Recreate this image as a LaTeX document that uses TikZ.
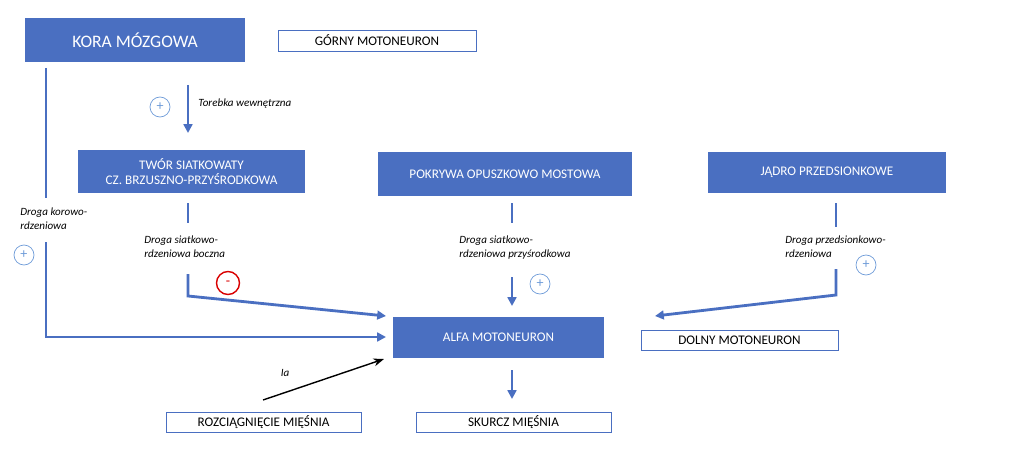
\documentclass[tikz,border=0pt]{standalone}
\usepackage{fontspec}
\setmainfont{Carlito}
\usetikzlibrary{arrows.meta}
\definecolor{bl}{HTML}{4A6FC1}
\definecolor{cb}{HTML}{6E9BD8}
\begin{document}
\begin{tikzpicture}[x=0.02cm,y=-0.02cm,
 box/.style={fill=bl,text=white,font=\fontsize{7.5}{9}\selectfont,align=center,inner sep=0},
 wbox/.style={draw=bl,fill=white,font=\fontsize{7.5}{9}\selectfont,inner sep=0},
 lab/.style={font=\fontsize{6.3}{8}\itshape\selectfont,align=left,anchor=north west,inner sep=0},
 ln/.style={bl,line width=1.6pt},
 ar/.style={ln,-{Triangle[length=5pt,width=5pt]}},
 pl/.style={draw=cb,circle,minimum size=0.4cm,inner sep=0,text=cb,font=\fontsize{8}{8}\selectfont},
 mi/.style={draw=red!85!black,circle,minimum size=0.46cm,inner sep=0,text=red!85!black,line width=0.8pt,font=\fontsize{8}{8}\selectfont}]
\useasboundingbox (0,0) rectangle (1024,456);
\node[box,minimum width=4.4cm,minimum height=0.88cm,font=\fontsize{10}{12}\selectfont] (kora) at (135,40) {KORA MÓZGOWA};
\node[wbox,minimum width=3.96cm,minimum height=0.42cm] (gm) at (377,40.5) {GÓRNY MOTONEURON};
\node[box,minimum width=4.54cm,minimum height=0.86cm] (twor) at (191.5,171.5) {TWÓR SIATKOWATY\\CZ. BRZUSZNO-PRZYŚRODKOWA};
\node[box,minimum width=5.08cm,minimum height=0.88cm] (pok) at (505,174) {POKRYWA OPUSZKOWO MOSTOWA};
\node[box,minimum width=4.76cm,minimum height=0.82cm] (jad) at (827,172.5) {JĄDRO PRZEDSIONKOWE};
\node[box,minimum width=4.22cm,minimum height=0.82cm] (alfa) at (498.5,337.5) {ALFA MOTONEURON};
\node[wbox,minimum width=3.94cm,minimum height=0.4cm] (dm) at (739.5,340) {DOLNY MOTONEURON};
\node[wbox,minimum width=3.9cm,minimum height=0.4cm] (roz) at (263.5,422) {ROZCIĄGNIĘCIE MIĘŚNIA};
\node[wbox,minimum width=3.9cm,minimum height=0.4cm] (sk) at (513.5,422) {SKURCZ MIĘŚNIA};
% kora -> twor
\coordinate (k1) at (188,85);
\draw[ar] (k1) -- (188,133);
\node[pl] (p1) at (160,107) {+};
\node[lab,anchor=west] (l0) at (198,104) {Torebka wewnętrzna};
% korowo-rdzeniowa
\coordinate (a1) at (46,68); \coordinate (a2) at (46,198);
\coordinate (a3) at (46,242);
\draw[ln] (a1) -- (a2);
\draw[ar] (a3) -- (46,337) -- (386,337);
\node[lab] (l1) at (20,207) {Droga korowo-\\rdzeniowa};
\node[pl] (p2) at (24,255) {+};
% siatkowo boczna
\coordinate (b1) at (188,203); \coordinate (b2) at (188,223); \coordinate (b3) at (188,274);
\draw[ln] (b1) -- (b2);
\draw[ar] (b3) -- (188,296) -- (386,316);
\node[lab] (l2) at (144,235) {Droga siatkowo-\\rdzeniowa boczna};
\node[mi] (m1) at (228,283) {-};
% przyśrodkowa
\coordinate (c1) at (512,203); \coordinate (c2) at (512,223); \coordinate (c3) at (512,277);
\draw[ln] (c1) -- (c2);
\draw[ar] (c3) -- (512,306);
\node[lab] (l3) at (459,235) {Droga siatkowo-\\rdzeniowa przyśrodkowa};
\node[pl] (p3) at (540,284) {+};
% przedsionkowa
\coordinate (d1) at (836,203); \coordinate (d2) at (836,227); \coordinate (d3) at (836,269);
\draw[ln] (d1) -- (d2);
\draw[ar] (d3) -- (836,295) -- (655,316);
\node[lab] (l4) at (785,235) {Droga przedsionkowo-\\rdzeniowa};
\node[pl] (p4) at (866,265) {+};
% alfa -> skurcz
\coordinate (e1) at (512,370);
\draw[ar] (e1) -- (512,399);
% Ia
\coordinate (f1) at (263,400);
\draw[-{Stealth[length=6pt]},line width=0.8pt] (f1) -- (384,359);
\node[lab,anchor=center] (ia) at (285,373) {Ia};
\end{tikzpicture}
\end{document}
